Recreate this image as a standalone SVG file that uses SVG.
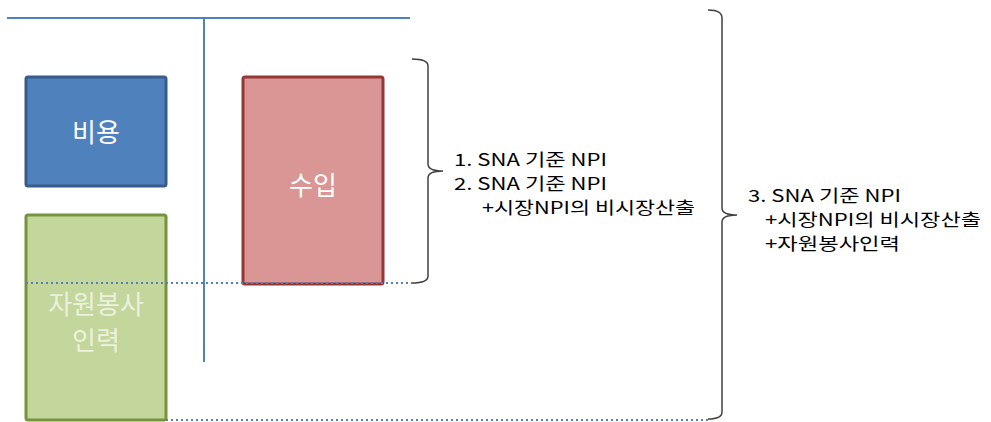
<svg xmlns="http://www.w3.org/2000/svg" width="991" height="422" viewBox="0 0 991 422">
<style>
.axis{stroke:#4f81bd;stroke-width:2;fill:none}
.dot{stroke:#4f81bd;stroke-width:2;stroke-dasharray:2 3;fill:none}
.brace{stroke:#404040;stroke-width:1.5;fill:none}
.lbl{font-family:"Noto Sans CJK KR","Noto Sans",sans-serif;font-size:26px;text-anchor:middle}
.note{font-family:"Noto Sans CJK KR","Noto Sans",sans-serif;font-size:17px;fill:#000}
</style>
<rect width="991" height="422" fill="#ffffff"/>
<g id="cost">
<rect x="26" y="77" width="140" height="109" rx="2" fill="#4f81bd" stroke="#385d8a" stroke-width="3"/>
<text class="lbl" x="96" y="142" fill="#ffffff">비용</text>
</g>
<g id="volunteer">
<rect x="26" y="215" width="140" height="205" rx="2" fill="#c3d69b" stroke="#77933c" stroke-width="3"/>
<text class="lbl" x="96" y="314" fill="#ebf1de">자원봉사</text>
<text class="lbl" x="96" y="350" fill="#ebf1de">인력</text>
</g>
<g id="revenue">
<rect x="243" y="77" width="140" height="207" rx="2" fill="#d99694" stroke="#953735" stroke-width="3"/>
<text class="lbl" x="313" y="195" fill="#ffffff">수입</text>
</g>
<g id="note12">
<text class="note" x="454" y="166" textLength="153" lengthAdjust="spacingAndGlyphs">1. SNA 기준 NPI</text>
<text class="note" x="454" y="190" textLength="153" lengthAdjust="spacingAndGlyphs">2. SNA 기준 NPI</text>
<text class="note" x="482" y="214" textLength="213" lengthAdjust="spacingAndGlyphs">+시장NPI의 비시장산출</text>
</g>
<g id="note3">
<text class="note" x="748" y="202" textLength="153" lengthAdjust="spacingAndGlyphs">3. SNA 기준 NPI</text>
<text class="note" x="765" y="226" textLength="216" lengthAdjust="spacingAndGlyphs">+시장NPI의 비시장산출</text>
<text class="note" x="765" y="250" textLength="135" lengthAdjust="spacingAndGlyphs">+자원봉사인력</text>
</g>
<g id="connectors">
<line class="axis" x1="7" y1="18" x2="410" y2="18"/>
<line class="axis" x1="204" y1="18" x2="204" y2="362"/>
<line class="dot" x1="26" y1="283" x2="412" y2="283"/>
<line class="dot" x1="166" y1="420" x2="708" y2="420"/>
<path class="brace" d="M412 59 Q428 59 428 66 L428 164 Q428 171 443 171 Q428 171 428 178 L428 276 Q428 283 412 283"/>
<path class="brace" d="M708 10 Q722 10 722 18 L722 208 Q722 215 737 215 Q722 215 722 222 L722 412 Q722 419 708 419"/>
</g>
</svg>
